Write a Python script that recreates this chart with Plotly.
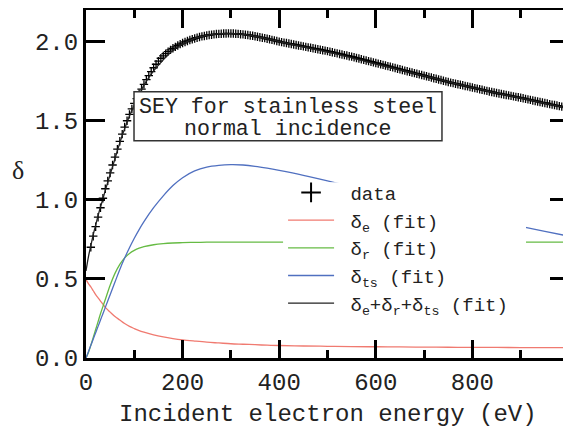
import plotly.graph_objects as go

# ---------------- data ----------------
# measured SEY (every 5 eV from 10 eV to 1000 eV)
DATA_E = list(range(10, 1005, 5))
DATA_DELTA = [
    0.70, 0.77, 0.83, 0.89, 0.95, 1.01, 1.07, 1.12, 1.17, 1.22,
    1.27, 1.32, 1.37, 1.415, 1.46, 1.50, 1.54, 1.575, 1.61, 1.64,
    1.67, 1.70, 1.73, 1.76, 1.785, 1.81, 1.835, 1.857, 1.877, 1.895,
    1.91, 1.924, 1.937, 1.948, 1.958, 1.967, 1.976, 1.984, 1.991, 1.998,
    2.004, 2.01, 2.015, 2.02, 2.025, 2.029, 2.033, 2.036, 2.039, 2.042,
    2.044, 2.046, 2.048, 2.049, 2.05, 2.051, 2.051, 2.052, 2.051, 2.051,
    2.05, 2.049, 2.047, 2.046, 2.044, 2.042, 2.039, 2.037, 2.034, 2.031,
    2.028, 2.025, 2.022, 2.018, 2.015, 2.011, 2.008, 2.004, 2.0, 1.997,
    1.994, 1.991, 1.988, 1.985, 1.982, 1.979, 1.976, 1.973, 1.97, 1.967,
    1.964, 1.961, 1.958, 1.955, 1.952, 1.949, 1.946, 1.943, 1.94, 1.936,
    1.933, 1.929, 1.926, 1.922, 1.919, 1.915, 1.912, 1.908, 1.905, 1.901,
    1.897, 1.893, 1.889, 1.885, 1.881, 1.877, 1.873, 1.869, 1.865, 1.861,
    1.857, 1.853, 1.849, 1.845, 1.841, 1.837, 1.833, 1.829, 1.825, 1.821,
    1.817, 1.813, 1.809, 1.805, 1.801, 1.797, 1.793, 1.789, 1.785, 1.781,
    1.777, 1.773, 1.769, 1.765, 1.761, 1.757, 1.753, 1.749, 1.745, 1.741,
    1.738, 1.734, 1.731, 1.727, 1.724, 1.72, 1.717, 1.713, 1.71, 1.706,
    1.703, 1.699, 1.696, 1.692, 1.689, 1.685, 1.682, 1.678, 1.675, 1.672,
    1.669, 1.666, 1.663, 1.66, 1.657, 1.654, 1.651, 1.648, 1.645, 1.642,
    1.638, 1.635, 1.632, 1.628, 1.625, 1.622, 1.618, 1.615, 1.612, 1.609,
    1.605, 1.602, 1.599, 1.596, 1.592, 1.589, 1.586, 1.583, 1.58,
]

# fitted components
FIT_E = [0, 5, 10, 15, 20, 25, 30, 35, 40, 50, 60, 70, 80, 90, 100, 110, 120,
         140, 160, 180, 200, 225, 250, 275, 300, 325, 350, 375, 400, 450, 500,
         550, 600, 650, 700, 750, 800, 850, 900, 950, 1000]
FIT_DELTA_E = [0.495, 0.47, 0.45, 0.425, 0.40, 0.38, 0.36, 0.34, 0.32, 0.29,
               0.262, 0.24, 0.218, 0.20, 0.186, 0.173, 0.163, 0.146, 0.133,
               0.123, 0.115, 0.107, 0.10, 0.095, 0.09, 0.087, 0.084, 0.081,
               0.079, 0.076, 0.074, 0.072, 0.071, 0.07, 0.069, 0.068, 0.067,
               0.067, 0.066, 0.066, 0.065]
FIT_DELTA_R = [0.0, 0.035, 0.08, 0.13, 0.18, 0.23, 0.28, 0.325, 0.37, 0.46,
               0.535, 0.592, 0.633, 0.661, 0.68, 0.694, 0.704, 0.716, 0.723,
               0.727, 0.729, 0.731, 0.732, 0.733, 0.733, 0.733, 0.733, 0.733,
               0.733, 0.733, 0.733, 0.733, 0.733, 0.733, 0.733, 0.733, 0.733,
               0.733, 0.733, 0.733, 0.733]
FIT_DELTA_TS = [0.0, 0.04, 0.08, 0.12, 0.16, 0.20, 0.24, 0.28, 0.32, 0.40,
                0.48, 0.56, 0.632, 0.697, 0.757, 0.812, 0.862, 0.95, 1.025,
                1.09, 1.14, 1.183, 1.207, 1.218, 1.222, 1.22, 1.212, 1.20,
                1.186, 1.155, 1.12, 1.083, 1.045, 1.008, 0.97, 0.935, 0.90,
                0.866, 0.832, 0.80, 0.77]
FIT_DELTA_SUM = [0.55, 0.64, 0.71, 0.78, 0.84, 0.90, 0.955, 1.005, 1.06, 1.16,
                 1.26, 1.36, 1.45, 1.53, 1.60, 1.665, 1.725, 1.815, 1.885,
                 1.945, 1.985, 2.02, 2.04, 2.05, 2.051, 2.046, 2.034, 2.018,
                 2.0, 1.967, 1.935, 1.898, 1.86, 1.822, 1.784, 1.746, 1.71,
                 1.675, 1.643, 1.61, 1.578]

X_TICKS = [0, 200, 400, 600, 800]
Y_TICKS = [0.0, 0.5, 1.0, 1.5, 2.0]

FONT = "Liberation Mono, Courier New, monospace"
NB = "\u00a0"

fig = go.Figure()

# data points (no legend entry; a legend-only proxy shows the larger '+')
fig.add_trace(go.Scatter(
    x=DATA_E, y=DATA_DELTA, mode="markers", showlegend=False,
    marker=dict(symbol="cross-thin", size=6, line=dict(width=1.3, color="black")),
))
fig.add_trace(go.Scatter(
    x=[None], y=[None], mode="markers", name=NB + "data",
    marker=dict(symbol="cross-thin", size=14, line=dict(width=2, color="black")),
))
fig.add_trace(go.Scatter(
    x=FIT_E, y=FIT_DELTA_E, mode="lines", line=dict(color="#f07a70", width=1.3, shape="spline"),
    name=NB + "δ<sub>e</sub> (fit)",
))
fig.add_trace(go.Scatter(
    x=FIT_E, y=FIT_DELTA_R, mode="lines", line=dict(color="#66bb44", width=1.3, shape="spline"),
    name=NB + "δ<sub>r</sub> (fit)",
))
fig.add_trace(go.Scatter(
    x=FIT_E, y=FIT_DELTA_TS, mode="lines", line=dict(color="#5070c0", width=1.3, shape="spline"),
    name=NB + "δ<sub>ts</sub> (fit)",
))
fig.add_trace(go.Scatter(
    x=FIT_E, y=FIT_DELTA_SUM, mode="lines", line=dict(color="#222222", width=1.3, shape="spline"),
    name=NB + "δ<sub>e</sub>+δ<sub>r</sub>+δ<sub>ts</sub> (fit)",
))

axis_common = dict(
    showline=True, linewidth=3, linecolor="black", mirror="ticks",
    ticks="inside", tickwidth=3, tickcolor="black",
    showgrid=False, zeroline=False,
    tickfont=dict(family=FONT, size=24, color="#222"),
)

fig.update_xaxes(
    range=[0, 1000], tickvals=X_TICKS, ticklen=18,
    minor=dict(ticks="inside", ticklen=8, tickwidth=3, tickcolor="black", dtick=100, tick0=0),
    **axis_common,
)
fig.update_yaxes(
    range=[0, 2.2], tickvals=Y_TICKS, tickformat=".1f", ticklen=19,
    **axis_common,
)

# white panel behind the legend (hides the curves there, as in the original)
fig.add_shape(type="rect", xref="paper", yref="paper",
              x0=0.408, x1=0.911, y0=0.122, y1=0.505,
              line=dict(width=0), fillcolor="white", layer="above")

# title box
fig.add_shape(type="rect", xref="paper", yref="paper",
              x0=0.0994, x1=0.737, y0=0.624, y1=0.765,
              line=dict(color="#333", width=1.5), fillcolor="white", layer="above")
fig.add_annotation(text="SEY for stainless steel", xref="paper", yref="paper",
                   x=0.418, y=0.7223, xanchor="center", yanchor="middle", showarrow=False,
                   height=21, font=dict(family=FONT, size=21.6, color="#222"))
fig.add_annotation(text="normal incidence", xref="paper", yref="paper",
                   x=0.418, y=0.6604, xanchor="center", yanchor="middle", showarrow=False,
                   height=21, font=dict(family=FONT, size=21.6, color="#222"))

# axis titles
fig.add_annotation(text="δ", xref="paper", yref="paper", x=-0.1408, y=0.54,
                   xanchor="center", yanchor="middle", showarrow=False,
                   font=dict(family="Liberation Serif, serif", size=26, color="#222"))
fig.add_annotation(text="Incident electron energy (eV)", xref="paper", yref="paper",
                   x=0.5, y=-0.163, xanchor="center", yanchor="middle", showarrow=False,
                   font=dict(family=FONT, size=24, color="#222"))

# the page adds an 8 px body margin, so the figure is sized to fill the rest
fig.update_layout(
    width=563, height=420,
    margin=dict(l=78, r=2, t=2, b=70, autoexpand=False),
    paper_bgcolor="white", plot_bgcolor="white",
    showlegend=True,
    legend=dict(x=0.408, y=0.530, xanchor="left", yanchor="top",
                bgcolor="rgba(0,0,0,0)", borderwidth=0, itemwidth=46,
                font=dict(family=FONT, size=19, color="#222")),
)

fig.write_html("out.html")
